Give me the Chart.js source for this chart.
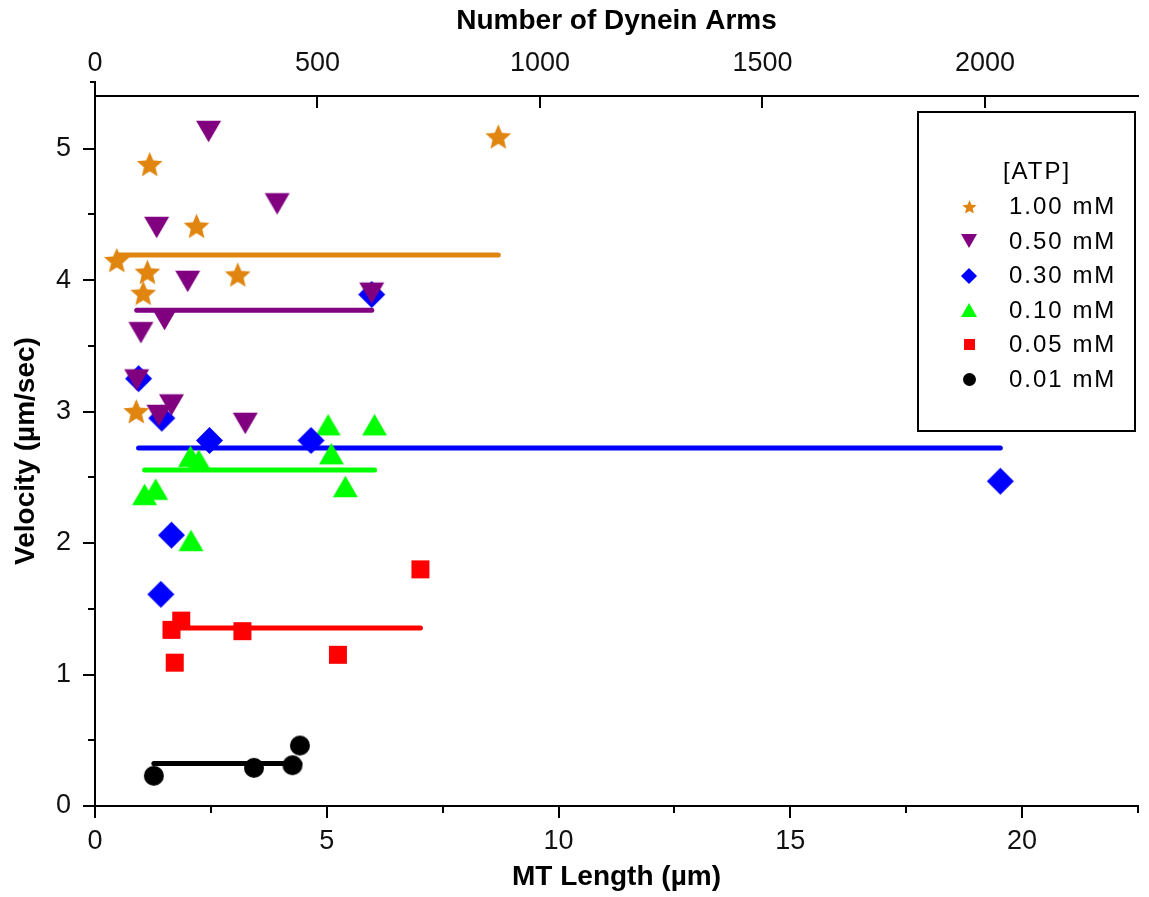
<!DOCTYPE html>
<html>
<head>
<meta charset="utf-8">
<script src="https://cdn.jsdelivr.net/npm/chart.js@4.4.1/dist/chart.umd.min.js"></script>
<style>
  html, body { margin: 0; padding: 0; background: #ffffff; }
  canvas { display: block; }
</style>
</head>
<body>
<canvas id="chart" width="1149" height="897"></canvas>
<script>
// Microtubule length (µm) and gliding velocity (µm/sec), one pair of arrays per ATP concentration
const atpLabels = ['1.00 mM', '0.50 mM', '0.30 mM', '0.10 mM', '0.05 mM', '0.01 mM'];

const length100 = [1.18, 8.70, 2.19, 0.47, 1.13, 3.08, 1.04, 0.89];
const velocity100 = [4.88, 5.09, 4.41, 4.15, 4.06, 4.04, 3.90, 3.00];

const length050 = [2.45, 3.93, 1.33, 2.00, 5.97, 1.50, 0.99, 0.90, 1.38, 1.65, 3.24];
const velocity050 = [5.13, 4.58, 4.40, 3.99, 3.90, 3.70, 3.60, 3.24, 2.97, 3.05, 2.91];

const length030 = [5.97, 0.94, 1.44, 2.47, 4.66, 1.65, 1.42, 19.53];
const velocity030 = [3.89, 3.25, 2.95, 2.78, 2.78, 2.06, 1.61, 2.47];

const length010 = [5.03, 6.03, 2.06, 2.24, 5.10, 5.40, 1.31, 1.07, 2.07];
const velocity010 = [2.90, 2.90, 2.66, 2.63, 2.68, 2.43, 2.41, 2.37, 2.02];

const length005 = [7.02, 1.86, 1.65, 3.18, 1.72, 5.24];
const velocity005 = [1.80, 1.41, 1.34, 1.33, 1.09, 1.15];

const length001 = [1.27, 3.43, 4.26, 4.42];
const velocity001 = [0.23, 0.29, 0.31, 0.46];

// Axis ranges and tick values
const lengthMax = 22.5;
const lengthStep = 5;
const velocityMax = 5.4;
const velocityStep = 1;
const armsPerMicron = 104.17;   // dynein arms per µm of microtubule
const armsTicks = [0, 500, 1000, 1500, 2000];

// Marker look for each concentration
const seriesStyle = [
  { color: '#E0850F', shape: 'star',    size: 27, legendSize: 15 },
  { color: '#800080', shape: 'down',    size: 25, legendSize: 16 },
  { color: '#0000FF', shape: 'diamond', size: 27, legendSize: 16 },
  { color: '#00FF00', shape: 'up',      size: 25, legendSize: 16 },
  { color: '#FF0000', shape: 'square',  size: 18, legendSize: 11 },
  { color: '#000000', shape: 'circle',  size: 20, legendSize: 13 }
];

const seriesLengths = [length100, length050, length030, length010, length005, length001];
const seriesVelocities = [velocity100, velocity050, velocity030, velocity010, velocity005, velocity001];

function makeMarker(shape, color, size) {
  const c = document.createElement('canvas');
  c.width = c.height = Math.ceil(size) + 2;
  const g = c.getContext('2d');
  const m = c.width / 2;
  const r = size / 2;
  g.fillStyle = color;
  g.beginPath();
  if (shape === 'star') {
    for (let i = 0; i < 10; i++) {
      const rr = i % 2 ? r * 0.45 : r;
      const ang = -Math.PI / 2 + i * Math.PI / 5;
      g.lineTo(m + rr * Math.cos(ang), m + 1 + rr * Math.sin(ang));
    }
  } else if (shape === 'down') {
    const h = r * Math.sqrt(3);
    g.moveTo(m - r, m - h / 2);
    g.lineTo(m + r, m - h / 2);
    g.lineTo(m, m + h / 2);
  } else if (shape === 'up') {
    const h = r * Math.sqrt(3);
    g.moveTo(m - r, m + h / 2);
    g.lineTo(m + r, m + h / 2);
    g.lineTo(m, m - h / 2);
  } else if (shape === 'diamond') {
    g.moveTo(m, m - r);
    g.lineTo(m + r, m);
    g.lineTo(m, m + r);
    g.lineTo(m - r, m);
  } else if (shape === 'square') {
    g.rect(m - r, m - r, 2 * r, 2 * r);
  } else {
    g.arc(m, m, r, 0, Math.PI * 2);
  }
  g.closePath();
  g.fill();
  return c;
}

const markers = seriesStyle.map(s => makeMarker(s.shape, s.color, s.size));
const legendMarkers = seriesStyle.map(s => makeMarker(s.shape, s.color, s.legendSize));

function toPoints(xs, ys) {
  return xs.map((x, i) => ({ x: x, y: ys[i] }));
}

// Horizontal mean-velocity line spanning the measured length range
function meanLine(xs, ys) {
  const mean = ys.reduce((s, v) => s + v, 0) / ys.length;
  return [{ x: Math.min(...xs), y: mean }, { x: Math.max(...xs), y: mean }];
}

const datasets = [];
atpLabels.forEach((label, i) => {
  datasets.push({
    label: label,
    data: toPoints(seriesLengths[i], seriesVelocities[i]),
    pointStyle: markers[i],
    pointRadius: 10,
    pointHoverRadius: 10,
    showLine: false,
    order: 0
  });
});
atpLabels.forEach((label, i) => {
  datasets.push({
    label: label + ' mean',
    data: meanLine(seriesLengths[i], seriesVelocities[i]),
    showLine: true,
    borderColor: seriesStyle[i].color,
    borderWidth: 5,
    borderCapStyle: 'round',
    pointRadius: 0,
    fill: false,
    order: 1
  });
});

const tickFont = { family: "'Liberation Sans', Arial, sans-serif", size: 27 };
const titleFont = { family: "'Liberation Sans', Arial, sans-serif", size: 28, weight: 'bold' };

// Tick marks: outward on bottom/left with half-step minor ticks, inward on top
const axisMarks = {
  id: 'axisMarks',
  afterDraw(chart) {
    const { ctx, chartArea: a, scales } = chart;
    ctx.save();
    ctx.strokeStyle = '#000';
    ctx.lineWidth = 2;
    const seg = (x1, y1, x2, y2) => {
      ctx.beginPath(); ctx.moveTo(x1, y1); ctx.lineTo(x2, y2); ctx.stroke();
    };
    const xs = scales.x, ys = scales.y, xt = scales.x2;
    xs.ticks.forEach(t => {
      const p = Math.round(xs.getPixelForValue(t.value));
      seg(p, a.bottom, p, a.bottom + 12);
    });
    for (let v = lengthStep / 2; v <= lengthMax + 1e-9; v += lengthStep) {
      const p = Math.round(xs.getPixelForValue(v));
      seg(p, a.bottom, p, a.bottom + 7);
    }
    ys.ticks.forEach(t => {
      const p = Math.round(ys.getPixelForValue(t.value));
      seg(a.left - 12, p, a.left, p);
    });
    for (let v = velocityStep / 2; v <= velocityMax + 1e-9; v += velocityStep) {
      const p = Math.round(ys.getPixelForValue(v));
      seg(a.left - 7, p, a.left, p);
    }
    xt.ticks.forEach(t => {
      const p = Math.round(xt.getPixelForValue(t.value));
      if (p > a.left + 2) seg(p, a.top, p, a.top + 12);
    });
    // left axis line runs a little above the top axis
    seg(a.left, a.top - 14, a.left, a.top);
    seg(a.left - 5, a.top - 14, a.left + 1, a.top - 14);
    ctx.restore();
  }
};

// Framed key with the [ATP] heading
const atpKey = {
  id: 'atpKey',
  afterDraw(chart) {
    const { ctx, chartArea: a } = chart;
    const box = { left: a.right - 220, top: a.top + 16, width: 217, height: 319 };
    ctx.save();
    ctx.fillStyle = '#ffffff';
    ctx.fillRect(box.left, box.top, box.width, box.height);
    ctx.strokeStyle = '#000';
    ctx.lineWidth = 2;
    ctx.strokeRect(box.left, box.top, box.width, box.height);
    ctx.fillStyle = '#000';
    ctx.font = "24px 'Liberation Sans', Arial, sans-serif";
    if ('letterSpacing' in ctx) ctx.letterSpacing = '2px';
    ctx.textBaseline = 'middle';
    ctx.textAlign = 'center';
    ctx.fillText('[ATP]', box.left + 119, box.top + 60);
    ctx.textAlign = 'left';
    atpLabels.forEach((label, i) => {
      const y = box.top + 94.5 + i * 34.5;
      const mk = legendMarkers[i];
      ctx.drawImage(mk, Math.round(box.left + 51 - mk.width / 2), Math.round(y - mk.height / 2));
      ctx.fillText(label, box.left + 91, y + 1);
    });
    ctx.restore();
  }
};

new Chart(document.getElementById('chart'), {
  type: 'scatter',
  data: { datasets: datasets },
  options: {
    responsive: false,
    animation: false,
    events: [],
    layout: { padding: { left: 0, right: 4, top: 0, bottom: 0 } },
    plugins: {
      legend: { display: false },
      tooltip: { enabled: false }
    },
    scales: {
      x: {
        type: 'linear',
        position: 'bottom',
        min: 0,
        max: lengthMax,
        afterFit: s => { s.height = 91; },
        grid: { display: false, drawTicks: false },
        border: { display: true, color: '#000', width: 2 },
        ticks: { stepSize: lengthStep, includeBounds: false, padding: 19, color: '#111', font: tickFont, maxRotation: 0 },
        title: { display: true, text: 'MT Length (\u00b5m)', color: '#000', font: titleFont, padding: { top: 0, bottom: 3 } }
      },
      x2: {
        type: 'linear',
        position: 'top',
        min: 0,
        max: lengthMax * armsPerMicron,
        afterFit: s => { s.height = 96; },
        afterBuildTicks: s => { s.ticks = armsTicks.map(v => ({ value: v })); },
        grid: { display: false, drawTicks: false },
        border: { display: true, color: '#000', width: 2 },
        ticks: { padding: 16, color: '#111', font: tickFont, maxRotation: 0, callback: v => String(v) },
        title: { display: true, text: 'Number of Dynein Arms', color: '#000', font: titleFont, padding: { top: 4, bottom: 0 } }
      },
      y: {
        type: 'linear',
        position: 'left',
        min: 0,
        max: velocityMax,
        afterFit: s => { s.width = 95; },
        grid: { display: false, drawTicks: false },
        border: { display: true, color: '#000', width: 2 },
        ticks: { stepSize: velocityStep, includeBounds: false, padding: 24, color: '#111', font: tickFont },
        title: { display: true, text: 'Velocity (\u00b5m/sec)', color: '#000', font: titleFont, padding: { top: 9, bottom: 0 } }
      }
    }
  },
  plugins: [axisMarks, atpKey]
});
</script>
</body>
</html>
